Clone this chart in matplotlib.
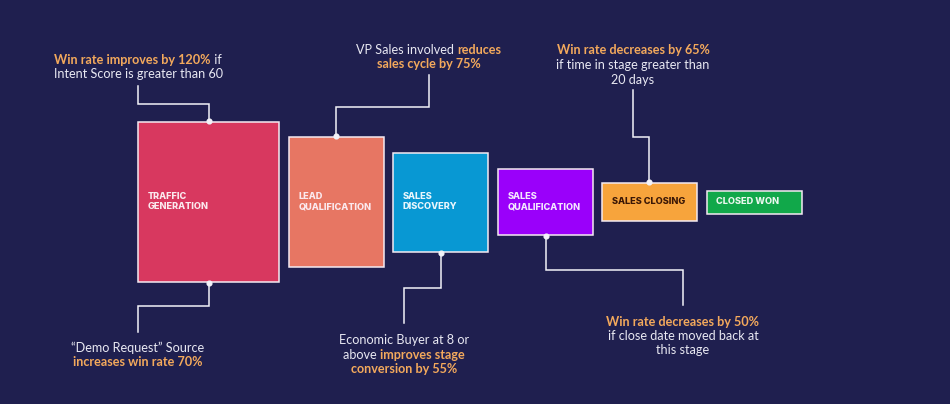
import matplotlib
matplotlib.use("Agg")
import matplotlib.pyplot as plt
import numpy as np

# ---------------- data ----------------
stages = ["TRAFFIC\nGENERATION", "LEAD\nQUALIFICATION", "SALES\nDISCOVERY",
          "SALES\nQUALIFICATION", "SALES CLOSING", "CLOSED WON"]
stage_values = [160, 130, 99, 66, 38, 23]
stage_colors = ["#d8385f", "#e77663", "#0898d3", "#9a00fa", "#f7a43c", "#11a84a"]
label_colors = ["#fbe9ee", "#fbe9ee", "#e9f6fc", "#f3e6ff", "#3a1706", "#eaf7ee"]

# annotation texts: list of lines, each line list of (text, highlighted)
notes_top = [
    (0, [[("Win rate improves by 120%", True), (" if", False)],
         [("Intent Score is greater than 60", False)]]),
    (1, [[("VP Sales involved ", False), ("reduces", True)],
         [("sales cycle by 75%", True)]]),
    (4, [[("Win rate decreases by 65%", True)],
         [("if time in stage greater than", False)],
         [("20 days", False)]]),
]
notes_bottom = [
    (0, [[("\u201cDemo Request\u201d Source", False)],
         [("increases win rate 70%", True)]]),
    (2, [[("Economic Buyer at 8 or", False)],
         [("above ", False), ("improves stage", True)],
         [("conversion by 55%", True)]]),
    (3, [[("Win rate decreases by 50%", True)],
         [("if close date moved back at", False)],
         [("this stage", False)]]),
]

# ---------------- layout ----------------
BG = "#1f1f4f"
ORANGE = "#f3a95c"
WHITE = "#e8e8f2"
W, H = 950, 404
lefts = [138, 289, 393, 498, 602, 707]
widths = [141, 95, 95, 95, 95, 95]
cy = 202
centers = [l + w / 2 for l, w in zip(lefts, widths)]

fig = plt.figure(figsize=(9.5, 4.04), dpi=100, facecolor=BG)
ax = fig.add_axes([0, 0, 1, 1])
ax.set_facecolor(BG)
ax.set_xlim(0, W)
ax.set_ylim(H, 0)
ax.axis("off")

bottoms = [cy - v / 2 for v in stage_values]
ax.bar(centers, stage_values, width=widths, bottom=bottoms, color=stage_colors,
       edgecolor="#f4eaf2", linewidth=1.1, zorder=2)

for i, name in enumerate(stages):
    lines = name.split("\n")
    n = len(lines)
    for k, ln in enumerate(lines):
        y = cy + (k - (n - 1) / 2) * 10.5 - 0.5
        ax.text(lefts[i] + 9.5, y, ln, color=label_colors[i], fontsize=6.6,
                fontweight="heavy", family="Inter",
                ha="left", va="center", zorder=3)

renderer = fig.canvas.get_renderer()


def draw_line(xc, y, parts, fs=9.1):
    texts = []
    for t, hl in parts:
        tx = ax.text(0, y, t, color=ORANGE if hl else WHITE, fontsize=fs,
                     fontweight="bold" if hl else "normal", family="Lato",
                     ha="left", va="center", zorder=3)
        texts.append(tx)
    ws = []
    inv = ax.transData.inverted()
    for tx in texts:
        bb = tx.get_window_extent(renderer=renderer)
        x0 = inv.transform((bb.x0, bb.y0))[0]
        x1 = inv.transform((bb.x1, bb.y0))[0]
        ws.append(x1 - x0)
    total = sum(ws)
    x = xc - total / 2
    for tx, w in zip(texts, ws):
        tx.set_x(x)
        x += w


LW = 1.1
LC = "#f2f2f8"

# top notes: text center x, first line y, elbow y, text-bottom y, box anchor x
top_geom = {0: (138, 60, 104, 86, 208.5), 1: (429, 50, 107, 75, 336),
            4: (633, 50.5, 137, 90, 649.3)}
for idx, lines in notes_top:
    xc, y0, ey, ty, bx = top_geom[idx]
    for k, parts in enumerate(lines):
        draw_line(xc, y0 + k * 14.5, parts)
    top = bottoms[idx]
    ax.plot([xc, xc, bx, bx], [ty, ey, ey, top - 1.5], color=LC, lw=LW, zorder=1,
            solid_joinstyle="miter")
    ax.plot([bx], [top - 1], "o", color=LC, ms=3.4, zorder=4)

bot_geom = {0: (138, 347.5, 306, 332, 208.5), 2: (404, 340.5, 287.5, 323, 440.7),
            3: (683, 322, 270, 305, 545.5)}
for idx, lines in notes_bottom:
    xc, y0, ey, ty, bx = bot_geom[idx]
    for k, parts in enumerate(lines):
        draw_line(xc, y0 + k * 14.2, parts)
    bot = bottoms[idx] + stage_values[idx]
    ax.plot([bx, bx, xc, xc], [bot + 1.5, ey, ey, ty], color=LC, lw=LW, zorder=1,
            solid_joinstyle="miter")
    ax.plot([bx], [bot + 1], "o", color=LC, ms=3.4, zorder=4)

fig.savefig("out.png", dpi=100, facecolor=BG)
